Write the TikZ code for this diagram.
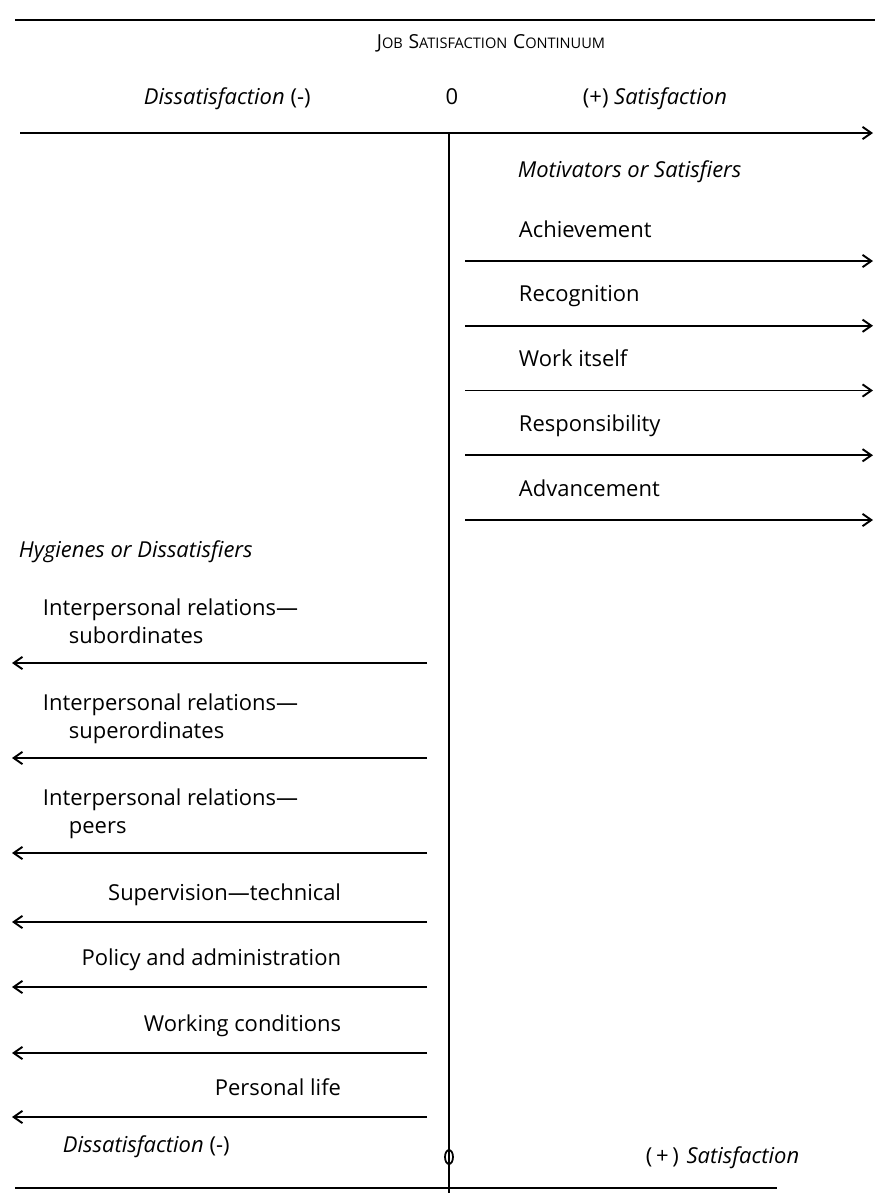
\documentclass[tikz,border=0pt]{standalone}
\usepackage{fontspec}
\setmainfont{Open Sans}
\usetikzlibrary{arrows.meta}
\newcommand{\capsc}[2]{{\fontsize{11}{13}\selectfont #1}{\fontsize{8.3}{10}\selectfont #2}}

\begin{document}
\begin{tikzpicture}[x=0.02cm, y=-0.02cm, line width=1.1pt,
    >={Straight Barb[length=5pt,width=7pt]},
    font=\fontsize{12.5}{15}\selectfont,
    lbl/.style={inner sep=0pt, anchor=base west},
    lblr/.style={inner sep=0pt, anchor=base east}]
    \useasboundingbox (0,0) rectangle (875,1198);
    % Continuum header
    \coordinate (top w) at (15,20);
    \coordinate (top e) at (875,20);
    \draw (top w) -- (top e);
    \node[inner sep=0pt, anchor=base] (title) at (491,48) {\capsc{J}{OB} \capsc{S}{ATISFACTION} \capsc{C}{ONTINUUM}};
    \node[lbl] (neg top) at (143,104) {\textit{Dissatisfaction} (-)};
    \node[inner sep=0pt, anchor=base] (zero) at (452,104) {0};
    \node[lbl] (pos top) at (582,104) {(+) \textit{Satisfaction}};
    % Axis and zero line
    \coordinate (axis w) at (20,133);
    \coordinate (axis e) at (873,133);
    \coordinate (zero top) at (449,133);
    \coordinate (zero bot) at (449,1193);
    \draw[->] (axis w) -- (axis e);
    \draw (zero top) -- (zero bot);
    % Motivators
    \node[lbl] (motiv) at (517,177) {\textit{Motivators or Satisfiers}};
    \foreach \name [count=\i] in {Achievement,Recognition,Work itself,Responsibility,Advancement} {
        \pgfmathsetmacro{\yy}{261+64.75*(\i-1)}
        \coordinate (m\i w) at (465,\yy);
        \coordinate (m\i e) at (873,\yy);
        \node[lbl] (m\i) at (518,\yy-24) {\name};
        \draw[->] (m\i w) -- (m\i e);
    }
    % Hygienes
    \node[lbl] (hyg) at (18,557) {\textit{Hygienes or Dissatisfiers}};
    \foreach \sub/\yy [count=\i] in {subordinates/663,superordinates/758,peers/853} {
        \coordinate (h\i e) at (427,\yy);
        \coordinate (h\i w) at (12,\yy);
        \node[lbl] (h\i a) at (42,\yy-48) {Interpersonal relations---};
        \node[lbl] (h\i b) at (68,\yy-20) {\sub};
        \draw[->] (h\i e) -- (h\i w);
    }
    \foreach \name/\yy [count=\i from 4] in {Supervision---technical/922,Policy and administration/987,Working conditions/1053,Personal life/1117} {
        \coordinate (h\i e) at (427,\yy);
        \coordinate (h\i w) at (12,\yy);
        \node[lblr] (h\i) at (342,\yy-22) {\name};
        \draw[->] (h\i e) -- (h\i w);
    }
    % Bottom scale
    \node[lbl] (neg bot) at (62,1152) {\textit{Dissatisfaction} (-)};
    \node[lbl] (pos bot) at (645,1163) {(\,+\,)\hspace{0.35em}\textit{Satisfaction}};
    \coordinate (zero mark) at (449,1157);
    \draw[line width=1pt] (zero mark) ellipse [x radius=4, y radius=7];
    \coordinate (bot w) at (15,1188);
    \coordinate (bot e) at (777,1188);
    \draw (bot w) -- (bot e);
\end{tikzpicture}
\end{document}
